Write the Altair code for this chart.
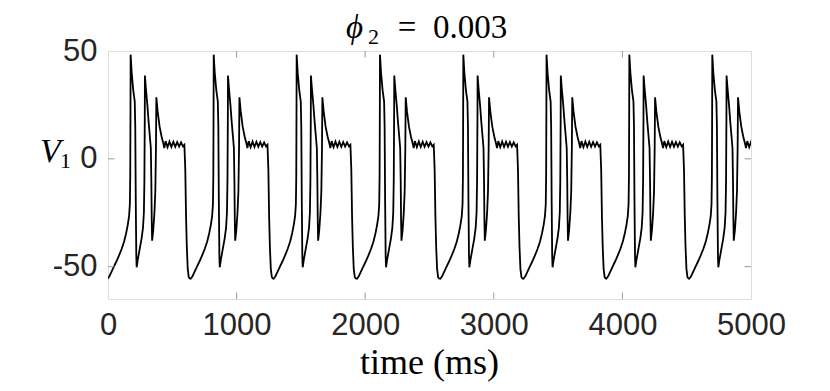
import altair as alt
import pandas as pd

# Onset time (ms) of the first spike of every burst
burst_onsets_ms = [176, 822, 1467, 2115, 2763, 3410, 4054, 4699]

# One burst waveform (time offset from burst onset, ms -> membrane voltage, mV)
burst_offset_ms = [-179, -165, -150, -130, -110, -90, -70, -50, -35, -22, -12, -6, -3, -1, 0,
                   8, 20, 32, 36, 40, 44, 47,
                   55, 70, 85, 96, 103, 107, 110, 111,
                   118, 130, 140, 150, 157, 161, 164, 167,
                   176, 185, 192, 197, 200,
                   210, 225, 240, 255, 262,
                   272, 287, 302, 317, 332, 347, 362, 377, 392, 407, 418,
                   425, 431, 437, 444, 452, 460]
burst_voltage_mv = [-55.6, -54.5, -52.5, -50.0, -47.5, -44.8, -41.8, -38.2, -34.5, -30.5, -26.5, -21.0, -8.0, 25.0, 48.3,
                    40.0, 32.0, 26.5, 15.0, -20.0, -45.0, -50.3,
                    -47.0, -42.0, -37.0, -32.0, -25.0, -10.0, 20.0, 38.6,
                    33.0, 25.0, 17.0, 10.0, 5.0, -10.0, -28.0, -38.0,
                    -33.0, -25.0, -15.0, 5.0, 28.5,
                    22.0, 15.0, 10.5, 7.0, 5.0,
                    8.2, 5.4, 8.0, 5.5, 7.9, 5.6, 7.8, 5.7, 7.6, 5.8, 6.5,
                    -5.0, -27.0, -41.0, -51.0, -54.9, -55.5]

x_ticks = [0, 1000, 2000, 3000, 4000, 5000]
y_ticks = [-50, 0, 50]
x_inner_ticks = [1000, 2000, 3000, 4000]
y_inner_ticks = [-50, 0]

title_symbol = "ϕ"
title_sub = "2"
title_eq = "="
title_value = "0.003"
x_title = "time (ms)"
y_title_main = "V"
y_title_sub = "1"

rows = []
for t0 in burst_onsets_ms:
    for off, v in zip(burst_offset_ms, burst_voltage_mv):
        rows.append({"t": t0 + off, "v": v})
df = pd.DataFrame(rows)
df["i"] = range(len(df))

W, H = 643, 248
TICK = 6.5
FRAME = "#999999"
SERIF = "Liberation Serif"

xscale = alt.Scale(domain=[0, 5000], nice=False, zero=False)
yscale = alt.Scale(domain=[-65, 50], nice=False, zero=False)

line = alt.Chart(df).mark_line(color="black", strokeWidth=1.8, clip=True).encode(
    x=alt.X("t:Q", scale=xscale,
            axis=alt.Axis(values=x_ticks, ticks=False, domain=False, grid=False,
                          labelExpr="'' + datum.value",
                          labelFont="Liberation Sans", labelFontSize=31, labelColor="#262626",
                          labelPadding=11, labelFlush=False, title=None)),
    y=alt.Y("v:Q", scale=yscale,
            axis=alt.Axis(values=y_ticks, ticks=False, domain=False, grid=False,
                          labelExpr="'' + datum.value",
                          labelFont="Liberation Sans", labelFontSize=31, labelColor="#262626",
                          labelPadding=11, title=None)),
    order="i:Q",
)

xt = pd.DataFrame({"t": x_inner_ticks})
yt = pd.DataFrame({"v": y_inner_ticks})

top_ticks = alt.Chart(xt).mark_rule(color=FRAME, strokeWidth=1).encode(
    x=alt.X("t:Q", scale=xscale), y=alt.value(0), y2=alt.value(TICK))
bottom_ticks = alt.Chart(xt).mark_rule(color=FRAME, strokeWidth=1).encode(
    x=alt.X("t:Q", scale=xscale), y=alt.value(H), y2=alt.value(H - TICK))
left_ticks = alt.Chart(yt).mark_rule(color=FRAME, strokeWidth=1).encode(
    y=alt.Y("v:Q", scale=yscale), x=alt.value(0), x2=alt.value(TICK))
right_ticks = alt.Chart(yt).mark_rule(color=FRAME, strokeWidth=1).encode(
    y=alt.Y("v:Q", scale=yscale), x=alt.value(W), x2=alt.value(W - TICK))

lbl = pd.DataFrame({"k": [0]})


def label(text, x, y, size, align="left", style="normal"):
    return alt.Chart(lbl).mark_text(
        font=SERIF, fontSize=size, fontStyle=style, color="black",
        align=align, baseline="alphabetic"
    ).encode(x=alt.value(x), y=alt.value(y), text=alt.value(text))


texts = [
    label(title_symbol, 238, -13, 33, style="italic"),
    label(title_sub, 260, -7, 22),
    label(title_eq, 299, -13, 33, align="center"),
    label(title_value, 325, -13, 33),
    label(x_title, W / 2, 323, 36, align="center"),
    label(y_title_main, -68, 111, 34, style="italic"),
    label(y_title_sub, -48, 117, 22),
]

chart = alt.layer(line, top_ticks, bottom_ticks, left_ticks, right_ticks, *texts).properties(
    width=W, height=H,
    autosize=alt.AutoSizeParams(type="none"),
    padding={"left": 100, "top": 43, "right": 71, "bottom": 84},
).configure_view(stroke=FRAME, strokeWidth=1).configure(background="white")

chart.save("out.html", embed_options={"renderer": "svg", "actions": False})
